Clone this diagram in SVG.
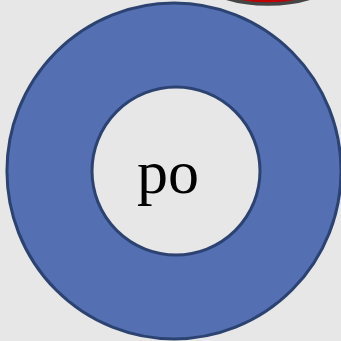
<svg xmlns="http://www.w3.org/2000/svg" width="341" height="341" viewBox="0 0 341 341">
<style>
.ring{fill:#5470b2;stroke:#2c4372;stroke-width:3;fill-rule:evenodd}
.lbl{font-family:"Liberation Serif","DejaVu Serif",serif;font-size:62px;fill:#000}
</style>
<rect width="341" height="341" fill="#e7e7e7"/>
<g id="topshape">
<ellipse cx="268" cy="-38" rx="82" ry="42" fill="#c00000" stroke="#454545" stroke-width="3.5"/>
</g>
<g id="ring">
<path class="ring" d="M174,3 A167,168 0 1,1 174,339 A167,168 0 1,1 174,3 Z M176,87 A84,84 0 1,0 176,255 A84,84 0 1,0 176,87 Z"/>
<text class="lbl" x="168" y="193" text-anchor="middle">po</text>
</g>
<g id="connectors"/>
</svg>
